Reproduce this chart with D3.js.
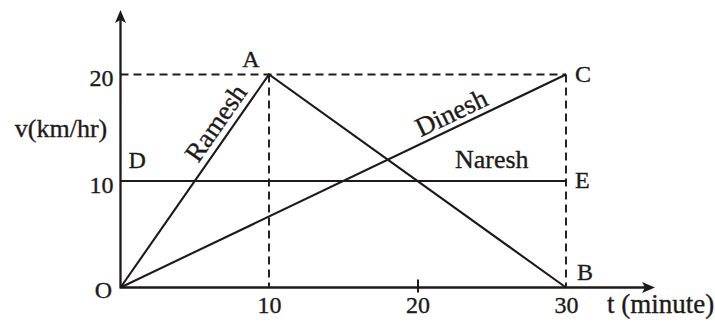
<!DOCTYPE html>
<html>
<head>
<meta charset="utf-8">
<script src="https://cdn.jsdelivr.net/npm/d3@7"></script>
<style>
  html, body { margin: 0; padding: 0; background: #ffffff; }
  svg { display: block; }
  text { font-family: "Liberation Serif", "DejaVu Serif", serif; fill: #1e1a1a; stroke: #1e1a1a; stroke-width: 0.35px; }
</style>
</head>
<body>
<div id="chart"></div>
<script>
// ---- data ----
const xTicks = [10, 20, 30];
const xTickLabels = ["10", "20", "30"];
const xTickMarks = [20];
const yTicks = [10, 20];
const yTickLabels = ["10", "20"];

const rameshT = [0, 10, 30];
const rameshV = [0, 20, 0];
const dineshT = [0, 30];
const dineshV = [0, 20];
const nareshT = [0, 30];
const nareshV = [10, 10];

const pointNames = ["O", "A", "B", "C", "D", "E"];
const pointT = [0, 10, 30, 30, 0, 30];
const pointV = [0, 20, 0, 20, 10, 10];

const xTitle = "t (minute)";
const yTitle = "v(km/hr)";

// ---- layout ----
const W = 715, H = 328;
const ink = "#1e1a1a";
const svg = d3.select("#chart").append("svg").attr("width", W).attr("height", H);

const x = d3.scaleLinear().domain([0, 30]).range([120.5, 566]);
const y = d3.scaleLinear().domain([0, 20]).range([287.5, 74.5]);

const line = d3.line().x(d => x(d[0])).y(d => y(d[1]));
const zip = (a, b) => a.map((v, i) => [v, b[i]]);

// dashed guide lines
const dash = "8,5";
[[[0, 20], [30, 20]], [[10, 20], [10, 0]], [[30, 20], [30, 0]]].forEach(seg => {
  svg.append("path").attr("d", line(seg))
    .attr("fill", "none").attr("stroke", ink).attr("stroke-width", 1.9).attr("stroke-dasharray", dash);
});

// axes lines with arrows
const x0 = x(0), y0 = y(0);
svg.append("line").attr("x1", x0).attr("y1", y0).attr("x2", 648).attr("y2", y0)
  .attr("stroke", ink).attr("stroke-width", 2.3);
svg.append("path").attr("d", `M655,${y0} L642,${y0 - 5.5} L645,${y0} L642,${y0 + 5.5} Z`).attr("fill", ink);
svg.append("line").attr("x1", x0).attr("y1", y0 + 1).attr("x2", x0).attr("y2", 18)
  .attr("stroke", ink).attr("stroke-width", 2.3);
svg.append("path").attr("d", `M${x0},10 L${x0 - 5.5},23 L${x0},20 L${x0 + 5.5},23 Z`).attr("fill", ink);

// x axis tick labels via d3 axis
const xAxis = d3.axisBottom(x).tickValues(xTicks).tickFormat((d, i) => xTickLabels[i]).tickSize(0);
const gx = svg.append("g").attr("transform", `translate(0,${y0})`).call(xAxis);
gx.select(".domain").remove();
gx.selectAll("text").attr("y", 25).attr("dy", 0)
  .style("font-family", '"Liberation Serif", serif').style("font-size", "24px").attr("fill", ink);
gx.selectAll("line")
  .attr("y1", d => xTickMarks.includes(d) ? -8 : 0)
  .attr("y2", d => xTickMarks.includes(d) ? 5 : 0)
  .attr("stroke", ink).attr("stroke-width", 2);

// y axis tick labels via d3 axis
const yAxis = d3.axisLeft(y).tickValues(yTicks).tickFormat((d, i) => yTickLabels[i]).tickSize(0);
const gy = svg.append("g").attr("transform", `translate(${x0},0)`).call(yAxis);
gy.select(".domain").remove();
gy.selectAll("text").attr("x", -7).attr("dy", 11)
  .style("font-family", '"Liberation Serif", serif').style("font-size", "24px").attr("fill", ink);

// series lines
[[rameshT, rameshV], [dineshT, dineshV], [nareshT, nareshV]].forEach(([t, v]) => {
  svg.append("path").attr("d", line(zip(t, v)))
    .attr("fill", "none").attr("stroke", ink).attr("stroke-width", 2.1).attr("stroke-linejoin", "miter");
});

// rotated series labels
function lineLabel(text, p0, p1, frac, off) {
  const ax = x(p0[0]), ay = y(p0[1]), bx = x(p1[0]), by = y(p1[1]);
  const px = ax + (bx - ax) * frac, py = ay + (by - ay) * frac;
  const ang = Math.atan2(by - ay, bx - ax) * 180 / Math.PI;
  svg.append("text").text(text)
    .attr("transform", `translate(${px},${py}) rotate(${ang})`)
    .attr("text-anchor", "middle").attr("dy", off)
    .style("font-size", "27px");
}
lineLabel("Ramesh", [rameshT[0], rameshV[0]], [rameshT[1], rameshV[1]], 0.73, -7);
lineLabel("Dinesh", [dineshT[0], dineshV[0]], [dineshT[1], dineshV[1]], 0.757, -6);

// Naresh label (horizontal)
svg.append("text").text("Naresh")
  .attr("x", x(25)).attr("y", y(nareshV[1]) - 13)
  .attr("text-anchor", "middle").style("font-size", "26px");

// point labels
const pointOffsets = {
  O: [-17, 10, "middle"],
  A: [-18, -8, "middle"],
  B: [11, -8, "start"],
  C: [9, 7.5, "start"],
  D: [8, -13, "start"],
  E: [9, 7, "start"]
};
pointNames.forEach((n, i) => {
  const o = pointOffsets[n];
  svg.append("text").text(n)
    .attr("x", x(pointT[i]) + o[0]).attr("y", y(pointV[i]) + o[1])
    .attr("text-anchor", o[2]).style("font-size", "24px");
});

// axis titles
svg.append("text").text(xTitle).attr("x", 607).attr("y", 313).style("font-size", "27px");
svg.append("text").text(yTitle).attr("x", 61).attr("y", 137)
  .attr("text-anchor", "middle").style("font-size", "26px");
</script>
</body>
</html>
